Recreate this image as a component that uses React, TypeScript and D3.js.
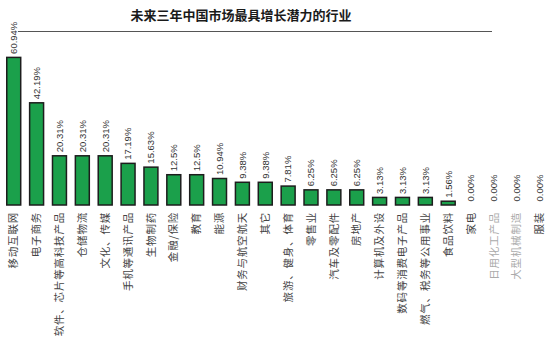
import React from "react";
import * as d3 from "d3";

const title = "未来三年中国市场最具增长潜力的行业";
const categories = [
  "移动互联网", "电子商务", "软件、芯片等高科技产品", "仓储物流", "文化、传媒", "手机等通讯产品",
  "生物制药", "金融/保险", "教育", "能源", "财务与航空航天", "其它",
  "旅游、健身、体育", "零售业", "汽车及零配件", "房地产", "计算机及外设", "数码等消费电子产品",
  "燃气、税务等公用事业", "食品饮料", "家电", "日用化工产品", "大型机械制造", "服装",
];
const values = [
  60.94, 42.19, 20.31, 20.31, 20.31, 17.19, 15.63, 12.5, 12.5, 10.94, 9.38, 9.38,
  7.81, 6.25, 6.25, 6.25, 3.13, 3.13, 3.13, 1.56, 0, 0, 0, 0,
];
const valueLabels = [
  "60.94%", "42.19%", "20.31%", "20.31%", "20.31%", "17.19%", "15.63%", "12.5%", "12.5%", "10.94%", "9.38%", "9.38%",
  "7.81%", "6.25%", "6.25%", "6.25%", "3.13%", "3.13%", "3.13%", "1.56%", "0.00%", "0.00%", "0.00%", "0.00%",
];
const faded = ["日用化工产品", "大型机械制造"];

export default function App() {
  const W = 550, H = 347;
  const x = d3.scaleBand<string>().domain(categories).range([2.3, 551.1]).paddingInner(0.39).paddingOuter(0.195);
  const y = d3.scaleLinear().domain([0, 60.94]).range([205, 57.4]);
  const bw = x.bandwidth();
  return (
    <svg width={W} height={H} style={{ position: "absolute", left: 0, top: 0, background: "#fff" }}>
      <text x={241} y={20} textAnchor="middle" fontFamily="'Noto Sans CJK SC', sans-serif" fontSize={13} fontWeight={700} fill="#1a1a1a">{title}</text>
      <line x1={18} x2={492} y1={31.5} y2={31.5} stroke="#555" strokeWidth={1} />
      {categories.map((c, i) => {
        const cx = (x(c) as number) + bw / 2;
        const v = values[i];
        const top = y(v);
        return (
          <g key={c}>
            {v > 0 && (
              <rect x={x(c) as number} y={top} width={bw} height={y(0) - top} fill="#1ba04b" stroke="#1d1d1d" strokeWidth={1.5} />
            )}
            <text transform={`translate(${cx},${(v > 0 ? top : y(0)) - 3.5}) rotate(-90)`} dy="0.35em" fontFamily="'Liberation Sans Narrow', 'Arial Narrow', sans-serif" fontSize={9.5} fill="#333">{valueLabels[i]}</text>
            <text transform={`translate(${cx},212) rotate(-90)`} textAnchor="end" dy="0.35em" fontFamily="'Noto Sans CJK SC', sans-serif" fontSize={10.5} letterSpacing={0.8} fill={faded.includes(c) ? "#aaa" : "#444"}>{c}</text>
          </g>
        );
      })}
    </svg>
  );
}
